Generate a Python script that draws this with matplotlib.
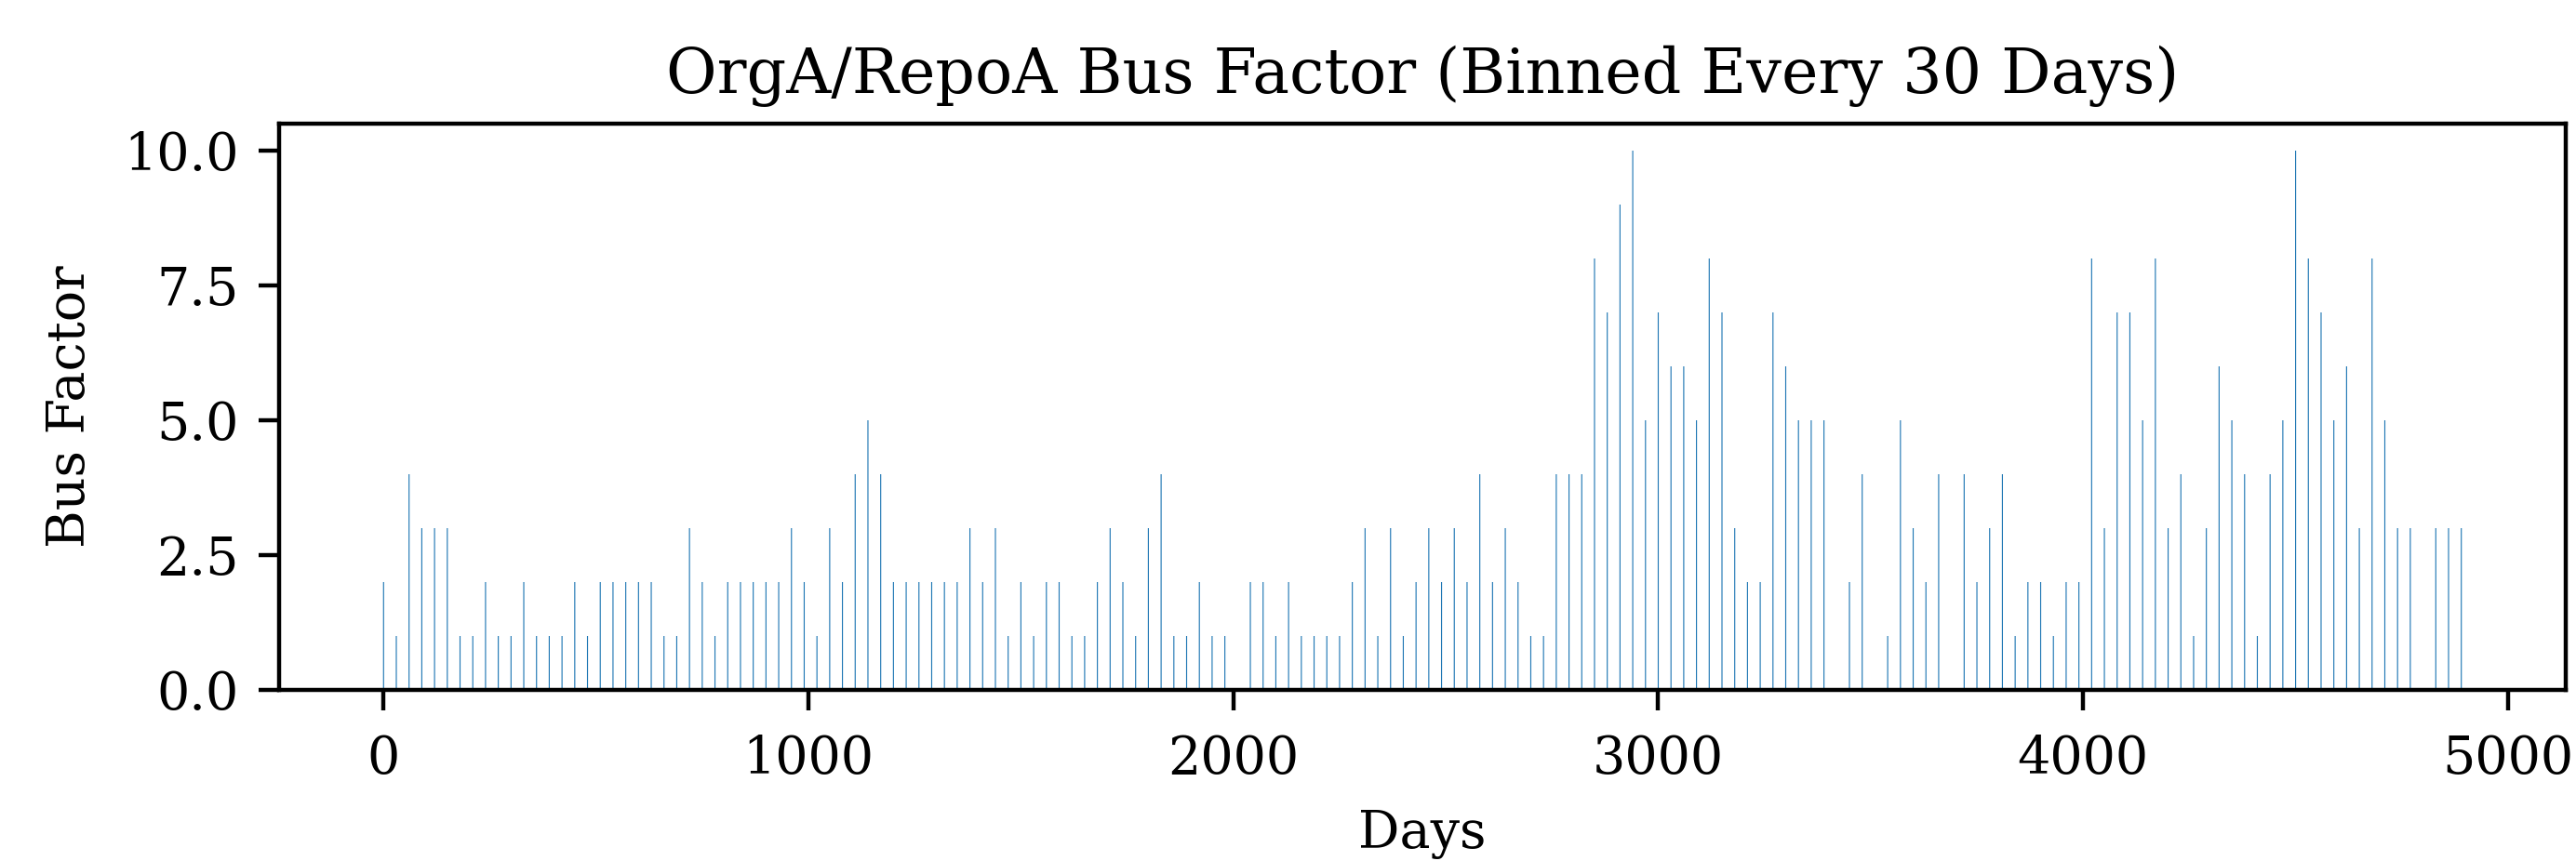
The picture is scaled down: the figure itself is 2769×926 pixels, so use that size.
import numpy as np
import matplotlib
matplotlib.use("Agg")
import matplotlib.pyplot as plt

# bus factor per 30-day bin (bin 0 = day 0)
bin_days = 30
bus_factor = [
    2, 1, 4, 3, 3, 3, 1, 1, 2, 1, 1, 2, 1, 1, 1, 2, 1, 2, 2, 2,
    2, 2, 1, 1, 3, 2, 1, 2, 2, 2, 2, 2, 3, 2, 1, 3, 2, 4, 5, 4,
    2, 2, 2, 2, 2, 2, 3, 2, 3, 1, 2, 1, 2, 2, 1, 1, 2, 3, 2, 1,
    3, 4, 1, 1, 2, 1, 1, 0, 2, 2, 1, 2, 1, 1, 1, 1, 2, 3, 1, 3,
    1, 2, 3, 2, 3, 2, 4, 2, 3, 2, 1, 1, 4, 4, 4, 8, 7, 9, 10, 5,
    7, 6, 6, 5, 8, 7, 3, 2, 2, 7, 6, 5, 5, 5, 0, 2, 4, 0, 1, 5,
    3, 2, 4, 0, 4, 2, 3, 4, 1, 2, 2, 1, 2, 2, 8, 3, 7, 7, 5, 8,
    3, 4, 1, 3, 6, 5, 4, 1, 4, 5, 10, 8, 7, 5, 6, 3, 8, 5, 3, 3,
    0, 3, 3, 3,
]
days = np.arange(len(bus_factor)) * bin_days

plt.rcParams['font.family'] = 'DejaVu Serif'
plt.rcParams['xtick.major.size'] = 4
plt.rcParams['ytick.major.size'] = 4
plt.rcParams['xtick.major.pad'] = 4.5
plt.rcParams['ytick.major.pad'] = 3.8

fig = plt.figure(figsize=(2769 / 400, 926 / 400), dpi=400)
ax = fig.add_axes([300 / 2769, 1 - 742 / 926, (2758 - 300) / 2769, (742 - 133) / 926])
ax.bar(days, bus_factor, width=2.5, color='tab:blue', snap=False)
ax.set_title('OrgA/RepoA Bus Factor (Binned Every 30 Days)')
ax.set_xlabel('Days', labelpad=4.5)
ax.set_ylabel('Bus Factor', labelpad=5.5)

fig.savefig('out.png', dpi=400)
